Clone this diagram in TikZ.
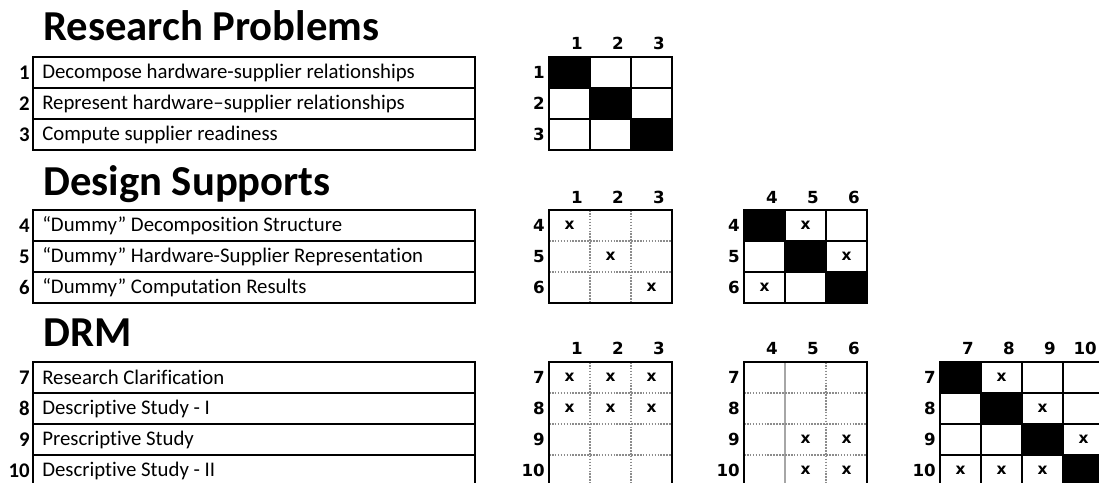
\documentclass[tikz,border=0pt]{standalone}
\usepackage{fontspec}
\setmainfont{Carlito}[Ligatures=NoCommon]
\newfontfamily\lblfont{DejaVu Sans}
\usetikzlibrary{positioning}

\begin{document}
\begin{tikzpicture}[x=0.75pt, y=-0.75pt, inner sep=0pt,
    title/.style={anchor=base west, font=\bfseries\fontsize{32}{36}\selectfont},
    rowtext/.style={anchor=west, font=\fontsize{15.6}{18}\selectfont},
    rownum/.style={anchor=east, text height=10pt, text depth=0pt,
      font=\bfseries\fontsize{15.6}{18}\selectfont},
    lbl/.style={anchor=east, text height=9pt, text depth=0pt,
      font=\lblfont\bfseries\fontsize{12.5}{14}\selectfont},
    xmark/.style={text height=6.5pt, text depth=0pt,
      font=\lblfont\bfseries\fontsize{11.5}{13}\selectfont},
    frame/.style={line width=2.2pt},
    rowline/.style={line width=1.1pt},
    cell/.style={line width=0.8pt},
    dotline/.style={black!45, densely dotted, line width=1.2pt}]
  \useasboundingbox (0,0) rectangle (1099,482);
  \clip (0,0) rectangle (1099,482);

  % section titles
  \node[title] (rpTitle) at (43,40) {Research Problems};
  \node[title] (dsTitle) at (43,195) {Design Supports};
  \node[title] (drmTitle) at (43,346) {DRM};

  % tables
  \foreach \i/\txt in {1/Decompose hardware-supplier relationships,
      2/Represent hardware–supplier relationships, 3/Compute supplier readiness}{
    \node[rownum] (rpn\i) at (30,{57+31*(\i-0.5)}) {\i};
    \node[rowtext] (rpt\i) at (42,{57+31*(\i-0.5)}) {\txt};
  }
  \foreach \y in {88,119} \draw[rowline] (33,\y) -- (475,\y);
  \draw[frame] (33,57) rectangle (475,150);

  \foreach \i/\txt in {4/“Dummy” Decomposition Structure,
      5/“Dummy” Hardware-Supplier Representation, 6/“Dummy” Computation Results}{
    \node[rownum] (dsn\i) at (30,{210+31*(\i-3.5)}) {\i};
    \node[rowtext] (dst\i) at (42,{210+31*(\i-3.5)}) {\txt};
  }
  \foreach \y in {241,272} \draw[rowline] (33,\y) -- (475,\y);
  \draw[frame] (33,210) rectangle (475,303);

  \foreach \i/\txt in {7/Research Clarification, 8/Descriptive Study - I,
      9/Prescriptive Study, 10/Descriptive Study - II}{
    \node[rownum] (drmn\i) at (30,{362+31*(\i-6.5)}) {\i};
    \node[rowtext] (drmt\i) at (42,{362+31*(\i-6.5)}) {\txt};
  }
  \foreach \y in {393,424,455} \draw[rowline] (33,\y) -- (475,\y);
  \draw[frame] (33,362) rectangle (475,486);

  % RP x RP
  \foreach \c in {1,2,3}{
    \node[lbl] (rpc\c) at ({549+41*\c-7},43) {\c};
    \node[lbl] (rpr\c) at (545,{57+31*(\c-0.5)}) {\c};
    \foreach \r in {1,2,3}
      \draw[cell] ({549+41*(\c-1)},{57+31*(\r-1)}) rectangle +(41,31);
    \fill ({549+41*(\c-1)},{57+31*(\c-1)}) rectangle +(41,31);
  }
  \draw[frame] (549,57) rectangle +(123,93);

  % DS x RP
  \foreach \k in {1,2,3}{
    \pgfmathtruncatemacro\n{\k+3}
    \node[lbl] (dsc\k) at ({549+41*\k-7},197) {\k};
    \node[lbl] (dsr\n) at (545,{210+31*(\k-0.5)}) {\n};
    \node[xmark] (dsx\k) at ({549+41*(\k-0.5)},{210+31*(\k-0.5)}) {x};
  }
  \foreach \k in {1,2}{
    \draw[dotline] ({549+41*\k},210) -- +(0,93);
    \draw[dotline] (549,{210+31*\k}) -- +(123,0);
  }
  \draw[frame] (549,210) rectangle +(123,93);

  % DS x DS
  \foreach \k in {1,2,3}{
    \pgfmathtruncatemacro\n{\k+3}
    \node[lbl] (ddc\n) at ({744+41*\k-7},197) {\n};
    \node[lbl] (ddr\n) at (740,{210+31*(\k-0.5)}) {\n};
    \foreach \r in {1,2,3}
      \draw[cell] ({744+41*(\k-1)},{210+31*(\r-1)}) rectangle +(41,31);
    \fill ({744+41*(\k-1)},{210+31*(\k-1)}) rectangle +(41,31);
  }
  \foreach \r/\c in {1/2, 2/3, 3/1}
    \node[xmark] (ddx\r\c) at ({744+41*(\c-0.5)},{210+31*(\r-0.5)}) {x};
  \draw[frame] (744,210) rectangle +(123,93);

  % DRM x RP
  \foreach \k in {1,2,3}
    \node[lbl] (mrc\k) at ({549+41*\k-7},348) {\k};
  \foreach \k in {1,...,4}{
    \pgfmathtruncatemacro\n{\k+6}
    \node[lbl] (mrr\n) at (545,{362+31*(\k-0.5)}) {\n};
  }
  \foreach \r in {1,2} \foreach \c in {1,2,3}
    \node[xmark] (mrx\r\c) at ({549+41*(\c-0.5)},{362+31*(\r-0.5)}) {x};
  \foreach \k in {1,2} \draw[dotline] ({549+41*\k},362) -- +(0,124);
  \foreach \k in {1,2,3} \draw[dotline] (549,{362+31*\k}) -- +(123,0);
  \draw[frame] (549,362) rectangle +(123,124);

  % DRM x DS
  \foreach \k in {1,2,3}{
    \pgfmathtruncatemacro\n{\k+3}
    \node[lbl] (mdc\n) at ({744+41*\k-7},348) {\n};
  }
  \foreach \k in {1,...,4}{
    \pgfmathtruncatemacro\n{\k+6}
    \node[lbl] (mdr\n) at (740,{362+31*(\k-0.5)}) {\n};
  }
  \foreach \r in {3,4} \foreach \c in {2,3}
    \node[xmark] (mdx\r\c) at ({744+41*(\c-0.5)},{362+31*(\r-0.5)}) {x};
  \draw[black!35, line width=0.8pt] (785,362) -- +(0,124);
  \draw[dotline] (826,362) -- +(0,124);
  \foreach \k in {1,2,3} \draw[dotline] (744,{362+31*\k}) -- +(123,0);
  \draw[frame] (744,362) rectangle +(123,124);

  % DRM x DRM
  \foreach \k in {1,...,4}{
    \pgfmathtruncatemacro\n{\k+6}
    \node[lbl] (mmc\n) at ({940+41*\k-7},348) {\n};
    \node[lbl] (mmr\n) at (936,{362+31*(\k-0.5)}) {\n};
    \foreach \r in {1,...,4}
      \draw[cell] ({940+41*(\k-1)},{362+31*(\r-1)}) rectangle +(41,31);
    \fill ({940+41*(\k-1)},{362+31*(\k-1)}) rectangle +(41,31);
  }
  \foreach \r/\c in {1/2, 2/3, 3/4, 4/1, 4/2, 4/3}
    \node[xmark] (mmx\r\c) at ({940+41*(\c-0.5)},{362+31*(\r-0.5)}) {x};
  \draw[frame] (940,362) rectangle +(164,124);
\end{tikzpicture}
\end{document}
